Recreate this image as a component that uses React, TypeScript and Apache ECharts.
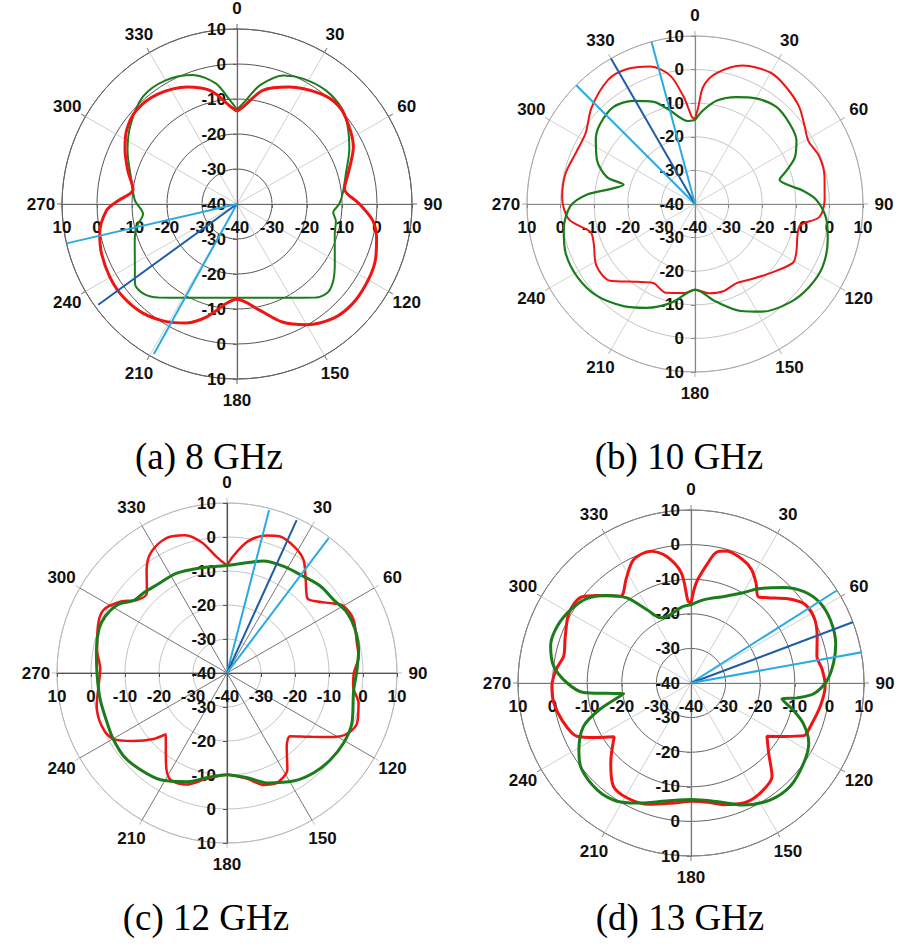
import React, { useEffect, useRef } from 'react';
import * as echarts from 'echarts';

// ---- data: [angle (deg), gain (dB)] ----
const red8: number[][] = [
  [0, -13.5], [4, -12], [13, -6.6], [24, -3.4], [37, -0.5], [46, 0.4], [55, -1], [64, -3], [69, -5], [76, -7.5],
  [82, -9], [90, -5], [97, -0.9], [104, 1.1], [113, 2.8], [122, 3.4], [131, 3.6], [140, 2.7], [150, -0.2],
  [159, -3.9], [168, -9], [180, -12.8], [186, -11.5], [195, -6.6], [203, -3.1], [211, -0.8], [221, 1.2],
  [231, 2], [240, 1.9], [250, 1.2], [258, 0.1], [267, -2.6], [271, -5.5], [278, -10], [287, -7.4], [296, -4.4],
  [304, -2], [313, -0.7], [324, -1.3], [337, -3.7], [347, -6.8], [356, -12], [360, -13.5],
];
const green8: number[][] = [
  [0, -13], [5, -10.2], [11, -5.4], [20, -0.9], [28, 0.5], [38, 1.2], [48, 0.5], [55, -1.4], [64, -4.3],
  [74, -7.6], [84, -9.6], [90, -10.8], [95, -12.4], [100, -11.3], [107, -10.8], [121, -7.4], [128, -5],
  [134, -3.8], [140, -5.1], [150, -9.1], [160, -11.5], [170, -12.8], [180, -13.2], [190, -12.8], [200, -11.5],
  [210, -9.1], [220, -5.1], [226, -3], [232, -3], [240, -6.3], [250, -8.9], [257, -10.5], [264, -13],
  [272, -10.8], [283, -9], [296, -5.2], [307, -2], [319, 0.8], [330, 0.8], [341, -1], [350, -5], [356, -10.2],
  [360, -13],
];
const red10: number[][] = [
  [0, -14.8], [2, -11], [4, -5], [9, -0.7], [19, 3.6], [30, 5.1], [38, 4.1], [47, 2.4], [55, -0.1], [61, -1.4],
  [69, -0.4], [78, -0.6], [88, -1.4], [96, -2.8], [102, -8.2], [116, -6.5], [121, -6], [133, -9.7], [144, -12.2],
  [152, -13.4], [162, -12.7], [171, -13.1], [180, -14.5], [187, -13.3], [198, -12.2], [208, -13.4], [217, -11],
  [228, -5.9], [238, -5.4], [249, -7.7], [255, -7.8], [263, -2.2], [273, -0.4], [283, -0.4], [293, -1.4],
  [303, -1.2], [313, 2.1], [325, 5.1], [333, 5], [342, 3], [349, -1], [354, -8], [358, -14.1], [360, -14.8],
];
const green10: number[][] = [
  [0, -15], [5, -12], [12, -8.5], [21, -5.9], [30, -3.7], [40, -2.3], [50, -3.1], [58, -4.4], [65, -7.2],
  [70, -11], [74, -13.8], [79, -11.3], [83, -7.6], [88, -3.9], [96, -0.8], [105, 0.9], [116, 2.3], [126, 2],
  [136, 0.7], [148, -2.2], [157, -5.4], [168, -10.3], [180, -14.5], [185, -13.4], [194, -9.6], [205, -5.9],
  [215, -2.9], [227, 0], [238, 1.2], [249, 1.2], [259, -0.2], [269, -2.9], [275, -7.8], [280, -14.4],
  [285, -18], [287, -12.6], [294, -8.1], [303, -4.8], [310, -3.1], [320, -2.3], [329, -4.2], [338, -7.2],
  [345, -11.2], [355, -15.2], [360, -15],
];
const red12: number[][] = [
  [0, -8.4], [3, -5.6], [9, -0.8], [16, 2.1], [21, 3.1], [28, 2.1], [34, 0.2], [40, -4], [47, -7.7], [51, -6.5],
  [57, -2.5], [60, -0.5], [67, 0.4], [77, -0.8], [83, -1], [90, -2.7], [96, -2.7], [103, -0.3], [111, 1],
  [117, -0.5], [121, -3.5], [127, -8.8], [135, -13.7], [141, -12.1], [148, -6.5], [156, -4.5], [162, -5.4],
  [169, -8.3], [180, -10.1], [191, -8.3], [200, -5.1], [208, -4.5], [214, -7.9], [225, -14.5], [228, -11],
  [234, -6], [240, -1.3], [247, 0], [256, -0.5], [264, -2], [272, -2.7], [280, -1.2], [290, 0.4], [297, 0.8],
  [304, -2.4], [309, -5.9], [315, -6.7], [322, -1.6], [328, 2], [336, 3.5], [343, 2.4], [349, -0.8],
  [355, -5.8], [360, -8.4],
];
const green12: number[][] = [
  [0, -8.4], [12, -6.7], [18, -5.4], [28, -4.5], [37, -3.9], [47, -2.5], [56, -1.9], [63, -0.5], [71, -0.2],
  [80, -0.7], [89, -1.8], [98, -2.4], [112, -0.4], [121, 0], [130, -0.3], [139, -1.1], [148, -2.6], [160, -5.6],
  [169, -8.6], [180, -10.1], [191, -8.6], [200, -6], [212, -3], [222, -1.8], [231, -1], [240, -1.3],
  [247, -1.8], [258, -1.9], [269, -1.8], [280, -1], [289, -0.2], [295, -0.5], [302, -2.1], [308, -5.3],
  [314, -6], [322, -6.9], [333, -7.1], [346, -8.1], [355, -8.5], [360, -8.4],
];
const red13: number[][] = [
  [0, -16.9], [3, -11], [8, -5], [11, -1.5], [15, -0.5], [22, -1.2], [28, -2.8], [33, -5.5], [38, -8.4],
  [42, -6.8], [49, -2.9], [55, -0.1], [62, 0.3], [70, -1.2], [78, -2.8], [84, -1.9], [91, -1.2], [100, -2],
  [110, -3.3], [115, -4], [120, -9.1], [125, -13.2], [132, -9.8], [139, -4.3], [148, -2.4], [156, -2.1],
  [165, -3.6], [172, -5.2], [180, -5.8], [188, -5], [199, -2.9], [209, -2], [217, -2.7], [225, -7.2],
  [235, -12.9], [240, -8.5], [245, -3.6], [253, -1.4], [262, 0.1], [269, 0.2], [276, -0.9], [282, -2.4],
  [290, -1.3], [300, 0.7], [308, 0.3], [313, -2.9], [321, -7.7], [328, -4.6], [335, -0.7], [343, -0.2],
  [349, -2.7], [355, -8.1], [358, -16.4], [360, -16.9],
];
const green13: number[][] = [
  [0, -17.4], [9, -15.6], [21, -13.2], [30, -9.9], [35, -6.8], [44, -1.6], [51, 2], [58, 3.9], [66, 4.2],
  [75, 3.3], [82, 1.6], [89, -0.7], [95, -4.4], [98, -9.1], [100, -13.3], [105, -9.3], [110, -5.4], [117, -1.8],
  [125, -0.1], [136, 1.4], [146, 0.8], [157, -1.7], [168, -5], [180, -6.3], [192, -5.1], [204, -2], [212, 0.3],
  [221, 1.1], [232, 0.2], [239, -2.2], [248, -6.5], [254, -12.7], [261, -20.3], [263, -15.5], [265, -8.8],
  [270, -4.2], [277, 0], [285, 2], [293, 2], [301, 0.8], [309, -1.2], [316, -4.8], [323, -9.2], [329, -15.3],
  [335, -19.2], [343, -19.4], [353, -17.9], [360, -17.4],
];

// beam direction lines (angle, reach in dB)
const beamAngles8 = [209, 234, 257];
const beamReach8 = [9, 9, 10];
const beamAngles10 = [315, 330, 345];
const beamReach10 = [10.5, 11.3, 10.3];
const beamAngles12 = [14.5, 24.5, 37];
const beamReach12 = [9.5, 9.4, 9.7];
const beamAngles13 = [57.6, 69.4, 79.8];
const beamReach13 = [9.9, 10.3, 11.1];

// angle tick labels (degrees)
const angleLabels = [0, 30, 60, 90, 120, 150, 180, 210, 240, 270, 300, 330];

const captions = ['(a) 8 GHz', '(b) 10 GHz', '(c) 12 GHz', '(d) 13 GHz'];
const radiusMin = -40;
const radiusMax = 10;

const RED = '#f01414';
const GREEN = '#1c7c1c';
const LIGHT_BLUE = '#29aae1';
const DARK_BLUE = '#1e5ea6';
const beamColors = [LIGHT_BLUE, DARK_BLUE, LIGHT_BLUE];

const panels = [
  { red: red8, green: green8, beamA: beamAngles8, beamR: beamReach8, cx: 237, cy: 204, r: 175,
    ring: '#555', outer: '#666', spoke: '#cfcfcf', cross: '#666', redW: 3, greenW: 2, greenTop: false, capX: 209, capY: 456 },
  { red: red10, green: green10, beamA: beamAngles10, beamR: beamReach10, cx: 695, cy: 204, r: 168,
    ring: '#c4c4c4', outer: '#aaa', spoke: '#d2d2d2', cross: '#888', redW: 2, greenW: 2.2, greenTop: true, capX: 679, capY: 456 },
  { red: red12, green: green12, beamA: beamAngles12, beamR: beamReach12, cx: 227, cy: 673, r: 170,
    ring: '#c4c4c4', outer: '#bbb', spoke: '#777', cross: '#555', redW: 2.5, greenW: 3, greenTop: true, capX: 206, capY: 917 },
  { red: red13, green: green13, beamA: beamAngles13, beamR: beamReach13, cx: 691, cy: 683, r: 173,
    ring: '#666', outer: '#888', spoke: '#cfcfcf', cross: '#777', redW: 3, greenW: 3, greenTop: true, capX: 680, capY: 917 },
];

const labelFont = { fontSize: 17, fontWeight: 'bold' as const, color: '#111', fontFamily: '"Liberation Sans", Arial, sans-serif' };
const angleLabelGapPx = 21;

export default function App() {
  const ref = useRef<HTMLDivElement>(null);
  useEffect(() => {
    if (!ref.current) return;
    const chart = echarts.init(ref.current, undefined, { renderer: 'svg' });
    const span = radiusMax - radiusMin;
    const series: any[] = [];
    panels.forEach((p, i) => {
      const redS = {
        type: 'line', coordinateSystem: 'polar', polarIndex: i, symbol: 'none', smooth: 0.3, clip: false,
        data: p.red.map(([a, v]) => [v, a]), lineStyle: { color: RED, width: p.redW }, z: 3,
      };
      const greenS = {
        type: 'line', coordinateSystem: 'polar', polarIndex: i, symbol: 'none', smooth: 0.3, clip: false,
        data: p.green.map(([a, v]) => [v, a]), lineStyle: { color: GREEN, width: p.greenW }, z: 3,
      };
      if (p.greenTop) series.push(redS, greenS); else series.push(greenS, redS);
      p.beamA.forEach((a, k) => {
        series.push({
          type: 'line', coordinateSystem: 'polar', polarIndex: i, symbol: 'none', clip: false, z: 4,
          data: [[radiusMin, a], [p.beamR[k], a]], lineStyle: { color: beamColors[k], width: 2 },
        });
      });
      // angle labels, centred on a circle just outside the outer ring
      const labelR = radiusMax + (angleLabelGapPx * span) / p.r;
      series.push({
        type: 'scatter', coordinateSystem: 'polar', polarIndex: i, symbol: 'circle', symbolSize: 0.01,
        clip: false, silent: true, z: 5,
        itemStyle: { color: '#000', opacity: 1 },
        data: angleLabels.map((a) => [labelR, a]),
        label: {
          show: true, position: 'inside', ...labelFont, textBorderWidth: 0, opacity: 1,
          formatter: (pr: any) => String(pr.value[1]),
        },
      });
    });
    const option: any = {
      animation: false,
      backgroundColor: '#fff',
      polar: panels.map((p) => ({ center: [p.cx, p.cy], radius: p.r })),
      angleAxis: panels.map((p, i) => ({
        polarIndex: i, type: 'value', min: 0, max: 360, interval: 30, startAngle: 90, clockwise: true,
        axisLine: { show: true, lineStyle: { color: p.outer, width: 1 } },
        axisTick: { show: true, length: 5, lineStyle: { color: p.outer } },
        axisLabel: { show: false },
        splitLine: { show: true, lineStyle: { color: p.spoke, width: 1 } },
      })),
      radiusAxis: panels.map((p, i) => ({
        polarIndex: i, type: 'value', min: radiusMin, max: radiusMax, interval: 10,
        axisLine: { show: false }, axisTick: { show: false }, axisLabel: { show: false },
        splitLine: { show: true, lineStyle: { color: p.ring, width: 1 } },
      })),
      grid: panels.map((p) => ({ left: p.cx - p.r, top: p.cy - p.r, width: 2 * p.r, height: 2 * p.r })),
      xAxis: panels.map((p, i) => ({
        gridIndex: i, type: 'value', min: -span, max: span, interval: 10, position: 'bottom', offset: -p.r,
        axisLine: { onZero: false, lineStyle: { color: p.cross, width: 1.2 } },
        axisTick: { show: true, length: 4, lineStyle: { color: p.cross } },
        axisLabel: { margin: 15, ...labelFont, formatter: (v: number) => String(Math.abs(v) + radiusMin) },
        splitLine: { show: false },
      })),
      yAxis: panels.map((p, i) => ({
        gridIndex: i, type: 'value', min: -span, max: span, interval: 10, position: 'left', offset: -p.r,
        axisLine: { onZero: false, lineStyle: { color: p.cross, width: 1.2 } },
        axisTick: { show: true, length: 4, lineStyle: { color: p.cross } },
        axisLabel: { margin: 11, ...labelFont, formatter: (v: number) => String(Math.abs(v) + radiusMin) },
        splitLine: { show: false },
      })),
      graphic: panels.map((p, i) => ({
        type: 'text', x: p.capX, y: p.capY, z: 10,
        style: {
          text: captions[i], fill: '#000', align: 'center', verticalAlign: 'middle',
          font: '37px "Liberation Serif", "Times New Roman", serif',
        },
      })),
      series,
    };
    chart.setOption(option);
    return () => chart.dispose();
  }, []);
  return <div ref={ref} style={{ position: 'absolute', left: 0, top: 0, width: 900, height: 946, background: '#fff' }} />;
}
